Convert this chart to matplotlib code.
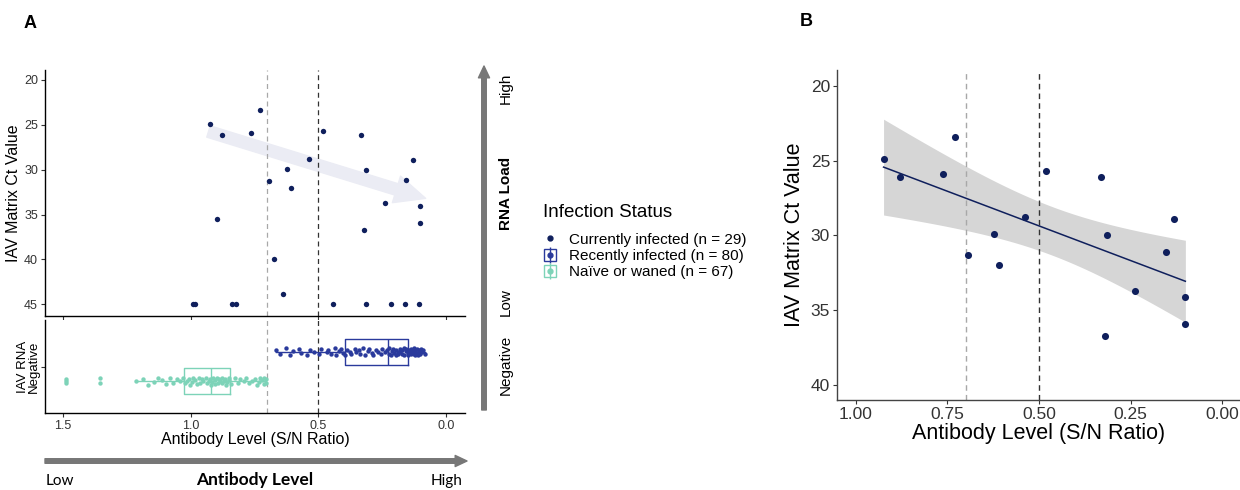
import matplotlib
matplotlib.use('Agg')
import matplotlib.pyplot as plt
import numpy as np
from matplotlib.lines import Line2D
from matplotlib.patches import FancyArrowPatch

plt.rcParams['font.family'] = ['Liberation Sans', 'DejaVu Sans']

# currently infected pigs: antibody S/N ratio and IAV matrix Ct value
cur_sn = [0.924, 0.879, 0.762, 0.730, 0.895, 0.695, 0.622, 0.609, 0.537, 0.480,
          0.674, 0.640, 0.332, 0.315, 0.321, 0.239, 0.131, 0.155, 0.101, 0.102,
          0.990, 0.983, 0.838, 0.823, 0.444, 0.314, 0.216, 0.159, 0.105]
cur_ct = [24.9, 26.1, 25.9, 23.4, 35.5, 31.3, 29.9, 32.0, 28.8, 25.7,
          39.9, 43.8, 26.1, 30.0, 36.7, 33.7, 28.9, 31.1, 34.1, 35.9,
          45, 45, 45, 45, 45, 45, 45, 45, 45]
# points that appear in panel B
in_b = [1, 1, 1, 1, 0, 1, 1, 1, 1, 1,
        0, 0, 1, 1, 1, 1, 1, 1, 1, 1,
        0, 0, 0, 0, 0, 0, 0, 0, 0]

# RNA negative pigs: antibody S/N ratio
recent_sn = [0.664, 0.652, 0.627, 0.611, 0.598, 0.577, 0.569, 0.544, 0.531, 0.518,
             0.497, 0.491, 0.468, 0.461, 0.449, 0.433, 0.429, 0.418, 0.412, 0.403,
             0.394, 0.388, 0.376, 0.371, 0.358, 0.353, 0.341, 0.337, 0.324, 0.319,
             0.307, 0.302, 0.290, 0.286, 0.273, 0.268, 0.256, 0.251, 0.241, 0.233,
             0.225, 0.222, 0.215, 0.213, 0.206, 0.204, 0.197, 0.195, 0.189, 0.187,
             0.181, 0.179, 0.173, 0.171, 0.166, 0.164, 0.158, 0.157, 0.151, 0.149,
             0.147, 0.144, 0.139, 0.138, 0.133, 0.132, 0.127, 0.126, 0.121, 0.120,
             0.115, 0.114, 0.109, 0.108, 0.103, 0.102, 0.097, 0.095, 0.090, 0.082]
naive_sn = [0.703, 0.706, 0.711, 0.714, 0.720, 0.727, 0.733, 0.742, 0.749, 0.761,
            0.770, 0.784, 0.793, 0.807, 0.816, 0.828, 0.840,
            0.848, 0.851, 0.858, 0.860, 0.867, 0.870, 0.876, 0.878, 0.885, 0.888,
            0.894, 0.897, 0.904, 0.906, 0.912, 0.915, 0.919,
            0.924, 0.928, 0.937, 0.941, 0.950, 0.954, 0.963, 0.967, 0.976, 0.981,
            0.989, 0.994, 1.003, 1.007, 1.016, 1.022,
            1.030, 1.043, 1.054, 1.069, 1.081, 1.098, 1.111, 1.129, 1.145, 1.166,
            1.187, 1.213, 1.356, 1.356, 1.487, 1.487, 1.487]
jitter = [0.03, -0.025, 0.045, -0.04, 0.01, 0.035, -0.015, -0.045, 0.02, 0.0, -0.03, 0.04, -0.005]

legend_labels = ['Currently infected (n = 29)', 'Recently infected (n = 80)', 'Naïve or waned (n = 67)']

navy = '#0f1f5c'
blue = '#2a3a9c'
teal = '#7dd3b8'
axcol = '#333333'

fig = plt.figure(figsize=(12.4, 4.9), dpi=100)
W, H = 1240, 490


def px(l, t, r, b):
    return [l / W, 1 - b / H, (r - l) / W, (b - t) / H]


def classic(ax, fs):
    for s in ['top', 'right']:
        ax.spines[s].set_visible(False)
    for s in ['left', 'bottom']:
        ax.spines[s].set_color('black')
        ax.spines[s].set_linewidth(1.0)
    ax.tick_params(colors=axcol, labelcolor=axcol, labelsize=fs, length=3, width=0.8, pad=2)


cur_sn = np.array(cur_sn)
cur_ct = np.array(cur_ct)
mask = np.array(in_b, dtype=bool)

# ---- panel A top
ax1 = fig.add_axes(px(45, 70, 465, 316))
classic(ax1, 9)
ax1.axvline(0.7, color='#a8a8a8', ls=(0, (4, 3)), lw=0.9)
ax1.axvline(0.5, color='#333333', ls=(0, (4, 3)), lw=0.9)
ax1.annotate('', xy=(0.08, 33.2), xytext=(0.93, 25.75),
             arrowprops=dict(arrowstyle='simple,tail_width=0.85,head_width=2.0,head_length=2.2',
                             color='#ebecf4', mutation_scale=10, shrinkA=0, shrinkB=0), zorder=1)
ax1.scatter(cur_sn, cur_ct, s=15, color=navy, zorder=3, linewidths=0)
ax1.set_xlim(1.57, -0.074)
ax1.set_ylim(46.3, 18.9)
ax1.set_yticks([20, 25, 30, 35, 40, 45])
ax1.set_xticks([1.5, 1.0, 0.5, 0.0])
ax1.set_xticklabels([])
ax1.set_ylabel('IAV Matrix Ct Value', fontsize=11.5, color='black', labelpad=2)

# ---- panel A bottom
ax2 = fig.add_axes(px(45, 320, 465, 413))
classic(ax2, 9)
ax2.axvline(0.7, color='#a8a8a8', ls=(0, (4, 3)), lw=0.9)
ax2.axvline(0.5, color='#333333', ls=(0, (4, 3)), lw=0.9)
for vals, pos, col in [(recent_sn, 1.1875, blue), (naive_sn, 0.8125, teal)]:
    ax2.boxplot(vals, positions=[pos], orientation='horizontal', widths=0.34, showfliers=False,
                showcaps=False, patch_artist=False,
                boxprops=dict(color=col, lw=1.0), whiskerprops=dict(color=col, lw=1.0),
                medianprops=dict(color=col, lw=1.0))
    jit = np.resize(jitter, len(vals))
    ax2.scatter(vals, pos + jit, s=10, color=col, linewidths=0, zorder=3)
ax2.set_xlim(1.57, -0.074)
ax2.set_ylim(0.4, 1.6)
ax2.set_xticks([1.5, 1.0, 0.5, 0.0])
ax2.set_xticklabels(['1.5', '1.0', '0.5', '0.0'])
ax2.set_yticks([1.0])
ax2.set_yticklabels(['IAV RNA\nNegative'], rotation=90, va='center', ha='center',
                    fontsize=9.5, color='black', linespacing=0.95)
ax2.tick_params(axis='y', pad=9)
ax2.set_xlabel('Antibody Level (S/N Ratio)', fontsize=11.5, color='black', labelpad=0)

# ---- side arrows and labels
fig.add_artist(FancyArrowPatch((45 / W, 1 - 461 / H), (467 / W, 1 - 461 / H), transform=fig.transFigure,
                               arrowstyle='simple,tail_width=0.33,head_width=0.8,head_length=0.85',
                               mutation_scale=10, color='#777777', shrinkA=0, shrinkB=0))
fig.add_artist(FancyArrowPatch((484 / W, 1 - 410 / H), (484 / W, 1 - 66 / H), transform=fig.transFigure,
                               arrowstyle='simple,tail_width=0.33,head_width=0.8,head_length=0.85',
                               mutation_scale=10, color='#777777', shrinkA=0, shrinkB=0))
fig.text(60 / W, 1 - 481 / H, 'Low', fontsize=11, family=['Lato', 'DejaVu Sans'], ha='center', va='center')
fig.text(255 / W, 1 - 480 / H, 'Antibody Level', fontsize=12.5, family=['Lato', 'DejaVu Sans'],
         fontweight='bold', ha='center', va='center')
fig.text(447 / W, 1 - 481 / H, 'High', fontsize=11, family=['Lato', 'DejaVu Sans'], ha='center', va='center')
for label, yy, bold in [('High', 88, False), ('RNA Load', 193, True), ('Low', 302, False), ('Negative', 365, False)]:
    fig.text(506 / W, 1 - yy / H, label, fontsize=11, rotation=90, ha='center', va='center',
             fontweight='bold' if bold else 'normal')

# ---- legend
h1 = Line2D([], [], ls='', marker='o', ms=3.5, color=navy)
h2 = (Line2D([], [], ls='', marker='s', ms=9, mfc='none', mec=blue, mew=1.0),
      Line2D([], [], ls='', marker='|', ms=12, color=blue, mew=1.0),
      Line2D([], [], ls='', marker='o', ms=3.5, color=blue))
h3 = (Line2D([], [], ls='', marker='s', ms=9, mfc='none', mec=teal, mew=1.0),
      Line2D([], [], ls='', marker='|', ms=12, color=teal, mew=1.0),
      Line2D([], [], ls='', marker='o', ms=3.5, color=teal))
fig.text(543 / W, 1 - 212 / H, 'Infection Status', fontsize=13.5, ha='left', va='center')
fig.legend([h1, h2, h3], legend_labels, loc='upper left',
           bbox_to_anchor=(532 / W, 1 - 222 / H), frameon=False, fontsize=11,
           handlelength=1.0, handletextpad=0.7, labelspacing=0.15, borderpad=0.2)

# ---- panel labels
fig.text(30 / W, 1 - 24 / H, 'A', fontsize=13, fontweight='bold', ha='center', va='center')
fig.text(806 / W, 1 - 22 / H, 'B', fontsize=13, fontweight='bold', ha='center', va='center')

# ---- panel B
ax3 = fig.add_axes(px(837, 70, 1240, 400))
classic(ax3, 12.5)
ax3.spines['left'].set_color('#444444')
ax3.spines['bottom'].set_color('#444444')
bx = cur_sn[mask]
by = cur_ct[mask]
ax3.axvline(0.7, color='#a8a8a8', ls=(0, (4, 3)), lw=1.0)
ax3.axvline(0.5, color='#333333', ls=(0, (4, 3)), lw=1.0)
slope, icpt = np.polyfit(bx, by, 1)
n = len(bx)
resid = by - (slope * bx + icpt)
s_err = np.sqrt(np.sum(resid ** 2) / (n - 2))
t_val = 2.131  # t(0.975, df=15)
xg = np.linspace(bx.min(), bx.max(), 100)
yg = slope * xg + icpt
ci = t_val * s_err * np.sqrt(1 / n + (xg - bx.mean()) ** 2 / np.sum((bx - bx.mean()) ** 2))
ax3.fill_between(xg, yg - ci, yg + ci, color='#d6d6d6', lw=0, zorder=1)
ax3.plot(xg, yg, color=navy, lw=1.1, zorder=2)
ax3.scatter(bx, by, s=26, color=navy, linewidths=0, zorder=3)
ax3.set_xlim(1.051, -0.048)
ax3.set_ylim(41, 18.95)
ax3.set_xticks([1.0, 0.75, 0.5, 0.25, 0.0])
ax3.set_xticklabels(['1.00', '0.75', '0.50', '0.25', '0.00'])
ax3.set_yticks([20, 25, 30, 35, 40])
ax3.set_ylabel('IAV Matrix Ct Value', fontsize=15.5, color='black', labelpad=4)
ax3.set_xlabel('Antibody Level (S/N Ratio)', fontsize=15.5, color='black', labelpad=1)

fig.savefig('out.png', dpi=100)
